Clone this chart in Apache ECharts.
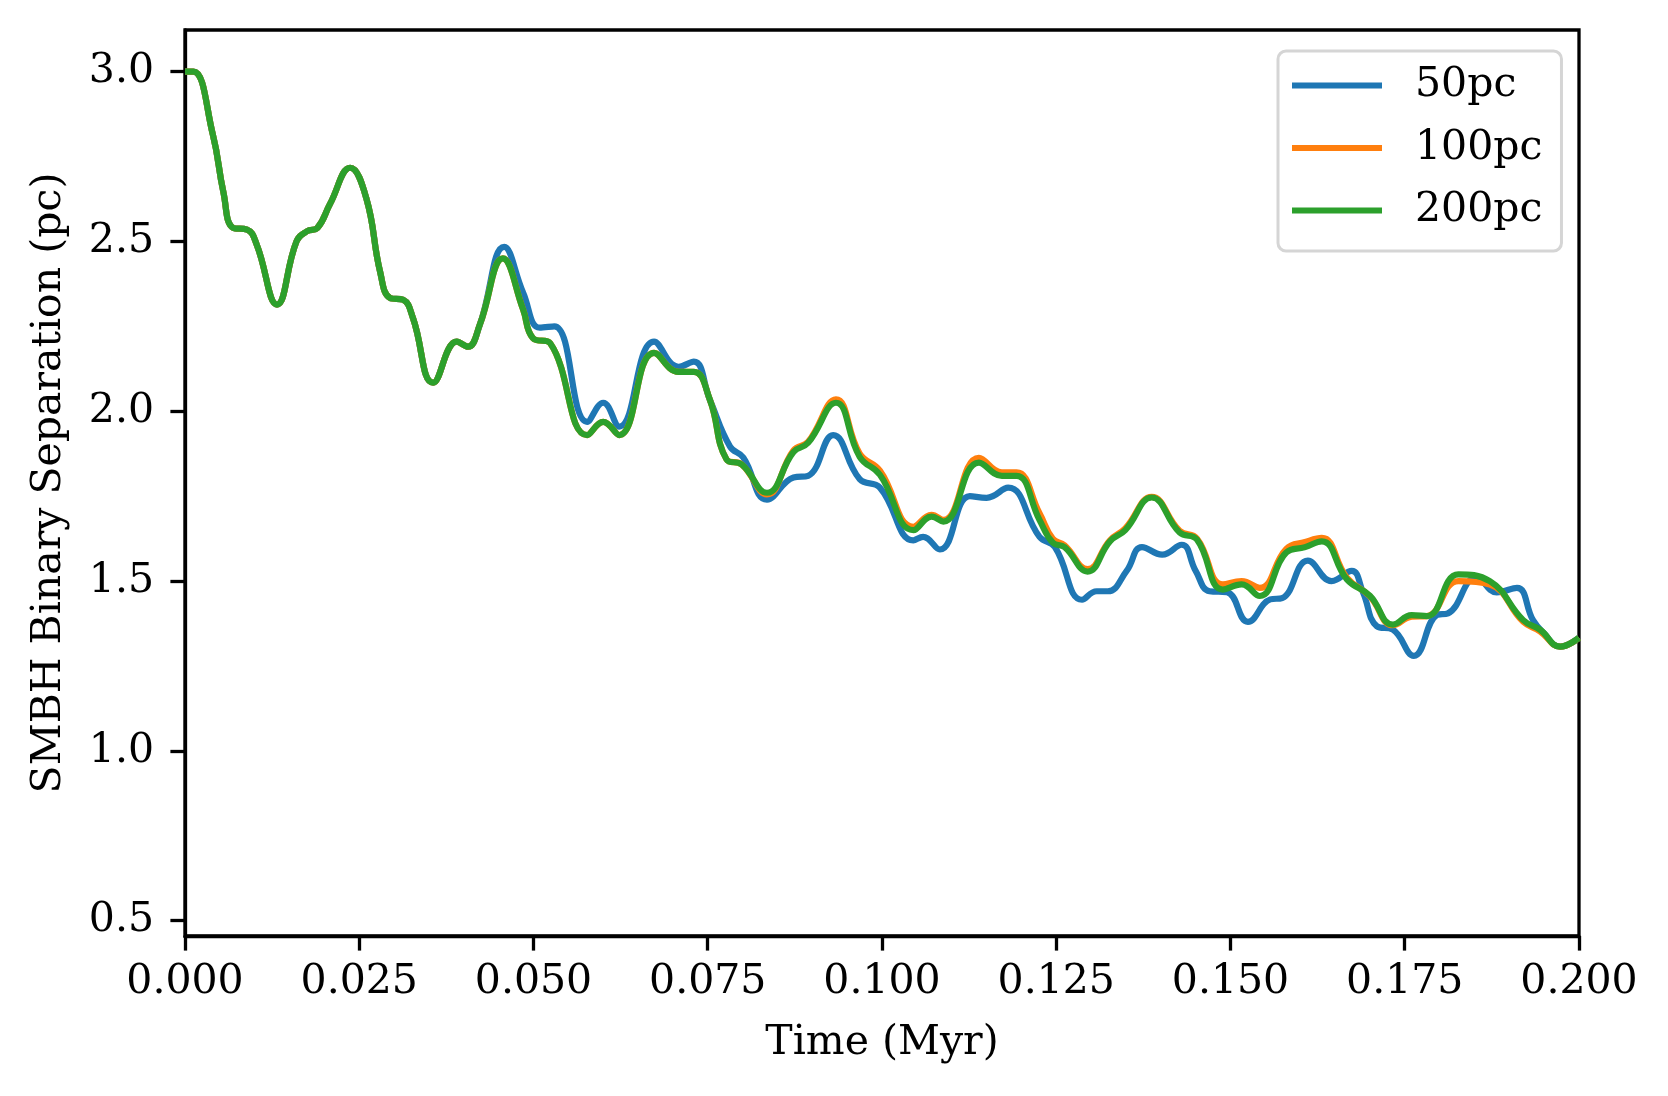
<!DOCTYPE html>
<html>
<head>
<meta charset="utf-8">
<script src="https://cdn.jsdelivr.net/npm/echarts@6/dist/echarts.min.js"></script>
<style>
  body { margin: 0; background: #fff; }
  #chart { width: 1668px; height: 1096px; }
</style>
</head>
<body>
<div id="chart"></div>
<script>
// time (Myr) and separation (pc)
var t200 = [0, 0.0012, 0.004, 0.0055, 0.0069, 0.0089, 0.0103, 0.0132, 0.016, 0.0175,
  0.019, 0.0208, 0.0237, 0.026, 0.028, 0.0294, 0.0313, 0.0327, 0.0356, 0.039,
  0.0406, 0.0423, 0.0456, 0.0485, 0.0499, 0.0524, 0.0577, 0.06, 0.0623, 0.0673,
  0.0708, 0.073, 0.0753, 0.0777, 0.0799, 0.0835, 0.0873, 0.0894, 0.0934, 0.0968,
  0.0997, 0.1045, 0.1071, 0.1088, 0.1139, 0.1172, 0.1193, 0.1226, 0.1245, 0.1262,
  0.1295, 0.1327, 0.1349, 0.1387, 0.1427, 0.1452, 0.1489, 0.1516, 0.1542, 0.158,
  0.1607, 0.1631, 0.1667, 0.17, 0.1733, 0.176, 0.1782, 0.1827, 0.1872, 0.192,
  0.1944, 0.1973, 0.2];
var v200 = [3.0, 3.0, 2.814, 2.646, 2.54, 2.535, 2.49, 2.314, 2.50, 2.53,
  2.54, 2.61, 2.717, 2.628, 2.41, 2.334, 2.328, 2.275, 2.084, 2.205,
  2.19, 2.255, 2.45, 2.30, 2.216, 2.20, 1.93, 1.969, 1.93, 2.172,
  2.116, 2.116, 2.034, 1.858, 1.843, 1.76, 1.88, 1.907, 2.025, 1.866,
  1.813, 1.65, 1.69, 1.675, 1.849, 1.81, 1.81, 1.68, 1.613, 1.60,
  1.528, 1.617, 1.65, 1.746, 1.643, 1.622, 1.475, 1.49, 1.456, 1.584,
  1.60, 1.617, 1.505, 1.457, 1.372, 1.40, 1.397, 1.52, 1.50, 1.385,
  1.357, 1.307, 1.333];
// 100pc uses the same times as 200pc
var v100 = [3.0, 3.0, 2.814, 2.646, 2.54, 2.535, 2.49, 2.314, 2.50, 2.53,
  2.54, 2.61, 2.717, 2.628, 2.41, 2.334, 2.328, 2.275, 2.084, 2.205,
  2.19, 2.255, 2.45, 2.30, 2.216, 2.20, 1.93, 1.969, 1.93, 2.172,
  2.116, 2.116, 2.034, 1.858, 1.843, 1.755, 1.885, 1.91, 2.035, 1.875,
  1.825, 1.66, 1.695, 1.68, 1.863, 1.82, 1.82, 1.70, 1.625, 1.605,
  1.535, 1.62, 1.655, 1.748, 1.648, 1.625, 1.49, 1.50, 1.48, 1.595,
  1.615, 1.627, 1.51, 1.455, 1.37, 1.395, 1.397, 1.50, 1.49, 1.38,
  1.352, 1.307, 1.333];
var t50 = [0, 0.0012, 0.004, 0.0055, 0.0069, 0.0089, 0.0103, 0.0132, 0.016, 0.0175,
  0.019, 0.0208, 0.0237, 0.026, 0.028, 0.0294, 0.0313, 0.0327, 0.0356, 0.039,
  0.0406, 0.0423, 0.0458, 0.0485, 0.0509, 0.053, 0.0577, 0.06, 0.0623, 0.0673,
  0.0708, 0.073, 0.0753, 0.0782, 0.0801, 0.0835, 0.0873, 0.0894, 0.093, 0.0968,
  0.0997, 0.1045, 0.1059, 0.1083, 0.1126, 0.115, 0.1181, 0.1226, 0.1248, 0.1287,
  0.1308, 0.1324, 0.1351, 0.1373, 0.1402, 0.143, 0.145, 0.147, 0.1495, 0.1525,
  0.1557, 0.1574, 0.1611, 0.1645, 0.1674, 0.169, 0.171, 0.1733, 0.1763, 0.1796,
  0.1812, 0.1853, 0.1882, 0.1911, 0.1934, 0.1948, 0.1973, 0.2];
var v50 = [3.0, 3.0, 2.814, 2.646, 2.54, 2.535, 2.49, 2.314, 2.50, 2.53,
  2.54, 2.61, 2.717, 2.628, 2.41, 2.334, 2.328, 2.275, 2.084, 2.205,
  2.19, 2.255, 2.484, 2.35, 2.246, 2.25, 1.969, 2.025, 1.955, 2.205,
  2.131, 2.146, 2.034, 1.896, 1.864, 1.74, 1.805, 1.81, 1.93, 1.80,
  1.775, 1.62, 1.63, 1.593, 1.75, 1.745, 1.775, 1.63, 1.60, 1.445,
  1.47, 1.47, 1.53, 1.60, 1.578, 1.607, 1.53, 1.47, 1.467, 1.38,
  1.446, 1.45, 1.56, 1.50, 1.53, 1.467, 1.367, 1.357, 1.28, 1.40,
  1.405, 1.51, 1.467, 1.48, 1.385, 1.35, 1.307, 1.333];
var yTicks = [0.5, 1.0, 1.5, 2.0, 2.5, 3.0];
var names = ['50pc', '100pc', '200pc'];
var colors = ['#1f77b4', '#ff7f0e', '#2ca02c'];

function pairs(ts, vs) {
    return ts.map(function (t, i) { return [t, vs[i]]; });
}

var font = 'DejaVu Serif';
var chart = echarts.init(document.getElementById('chart'));

function lineSeries(name, data, color, z) {
    return {
        name: name,
        type: 'line',
        data: data,
        smooth: 0.45,
        showSymbol: false,
        symbol: 'none',
        z: z,
        lineStyle: { color: color, width: 6.2 },
        itemStyle: { color: color }
    };
}

var option = {
    animation: false,
    backgroundColor: '#fff',
    grid: {
        left: 185, right: 89, top: 30, bottom: 160,
        show: true, borderColor: '#000', borderWidth: 3.3, backgroundColor: 'transparent'
    },
    legend: {
        orient: 'vertical',
        left: 1278, top: 51,
        padding: [14, 19, 20, 14],
        itemGap: 21.5,
        itemWidth: 90, itemHeight: 6,
        icon: 'rect',
        borderColor: '#d5d5d5', borderWidth: 3, borderRadius: 8,
        backgroundColor: '#fff',
        textStyle: { fontFamily: font, fontSize: 41, color: '#000', lineHeight: 41, padding: [0, 0, 0, 28] },
        data: names
    },
    xAxis: {
        type: 'value',
        min: 0, max: 0.2, interval: 0.025,
        name: 'Time (Myr)',
        nameLocation: 'middle',
        nameGap: 87,
        nameTextStyle: { fontFamily: font, fontSize: 41, color: '#000' },
        axisLine: { show: true, onZero: false, lineStyle: { color: '#000', width: 3.3 } },
        axisTick: { show: true, length: 14.6, lineStyle: { color: '#000', width: 3.3 } },
        axisLabel: {
            margin: 26, fontFamily: font, fontSize: 41, color: '#000',
            formatter: function (v) { return v.toFixed(3); }
        },
        splitLine: { show: false }
    },
    yAxis: {
        type: 'value',
        min: 0.455, max: 3.1225,
        name: 'SMBH Binary Separation (pc)',
        nameLocation: 'middle',
        nameGap: 115,
        nameTextStyle: { fontFamily: font, fontSize: 41, color: '#000' },
        axisLine: { show: true, onZero: false, lineStyle: { color: '#000', width: 3.3 } },
        axisTick: { show: true, length: 14.6, customValues: yTicks, lineStyle: { color: '#000', width: 3.3 } },
        axisLabel: {
            margin: 31, fontFamily: font, fontSize: 41, color: '#000',
            customValues: yTicks,
            formatter: function (v) { return v.toFixed(1); }
        },
        splitLine: { show: false }
    },
    series: [
        lineSeries(names[0], pairs(t50, v50), colors[0], 2),
        lineSeries(names[1], pairs(t200, v100), colors[1], 3),
        lineSeries(names[2], pairs(t200, v200), colors[2], 4)
    ]
};
chart.setOption(option);
</script>
</body>
</html>
